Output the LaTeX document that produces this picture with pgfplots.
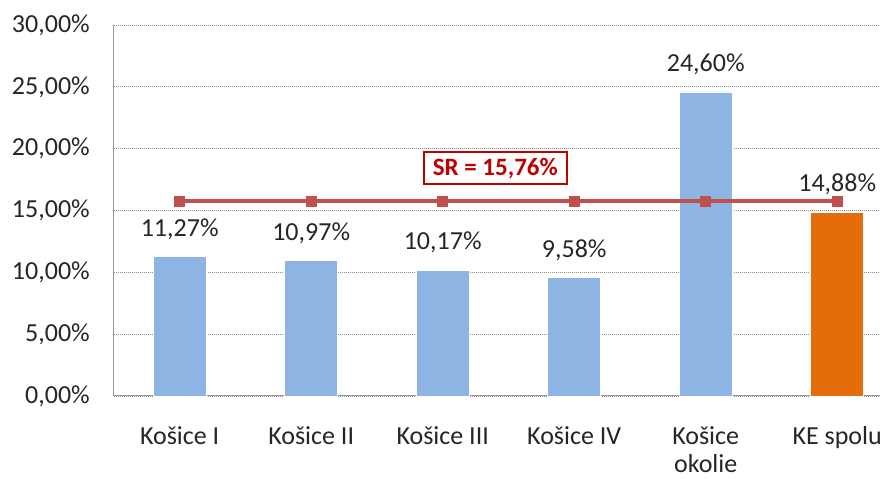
\documentclass[border=0pt]{standalone}
\usepackage{pgfplots}
\pgfplotsset{compat=1.18}
\usepackage{fontspec}
\setmainfont{Carlito}
\definecolor{barblue}{HTML}{8EB4E3}
\definecolor{barorange}{HTML}{E46C0A}
\definecolor{srred}{HTML}{C0504D}
\definecolor{boxred}{HTML}{C00000}
\definecolor{txt}{HTML}{262626}
\begin{document}
\fontsize{26}{30}\selectfont
\begin{tikzpicture}
\useasboundingbox (-179.7pt,-83pt) rectangle (701.3pt,396pt);
\begin{axis}[
  at={(0,0)}, anchor=origin,
  scale only axis, width=766pt, height=371pt,
  xmin=-0.5, xmax=5.325, ymin=0, ymax=30,
  axis x line*=bottom, axis y line*=left,
  axis line style={color=black!40, line width=1pt},
  xtick={0,1,2,3,4,5},
  xticklabels={Košice I, Košice II, Košice III, Košice IV, {Košice\\okolie}, KE spolu},
  xticklabel style={align=center, anchor=north, inner sep=0pt, yshift=-30pt, text=txt, font=\fontsize{26}{28}\selectfont},
  ytick={0,5,10,15,20,25,30},
  yticklabels={{0,00\%},{5,00\%},{10,00\%},{15,00\%},{20,00\%},{25,00\%},{30,00\%}},
  yticklabel style={anchor=east, inner sep=0pt, xshift=-24pt, text=txt, font=\fontsize{26}{30}\selectfont},
  major tick length=0pt,
  ymajorgrids, grid style={color=black!45, line width=0.8pt, dash pattern=on 1pt off 1pt},
  clip=false,
]
\addplot[ybar, bar width=53pt, bar shift=0pt, fill=barblue, draw=white, line width=0.5pt,
  point meta=explicit symbolic,
  nodes near coords, nodes near coords style={anchor=south, yshift=8pt, text=txt, font=\fontsize{26}{30}\selectfont}]
  coordinates {(0,11.27) [11,27\%] (1,10.97) [10,97\%] (2,10.17) [10,17\%] (3,9.58) [9,58\%] (4,24.60) [24,60\%]};
\addplot[ybar, bar width=53pt, bar shift=0pt, fill=barorange, draw=white, line width=0.5pt,
  point meta=explicit symbolic,
  nodes near coords, nodes near coords style={anchor=south, yshift=8pt, text=txt, font=\fontsize{26}{30}\selectfont}]
  coordinates {(5,14.88) [14,88\%]};
\addplot[color=srred, line width=4pt, mark=square*, mark size=5pt, mark options={fill=srred, line width=0pt}]
  coordinates {(0,15.76) (1,15.76) (2,15.76) (3,15.76) (4,15.76) (5,15.76)};
\node[draw=boxred, line width=1.8pt, text=boxred, font=\bfseries\fontsize{25}{28}\selectfont, fill=white, inner xsep=9pt, inner ysep=6pt] at (axis cs:2.4,18.43) {SR = 15,76\%};
\end{axis}
\end{tikzpicture}
\end{document}
